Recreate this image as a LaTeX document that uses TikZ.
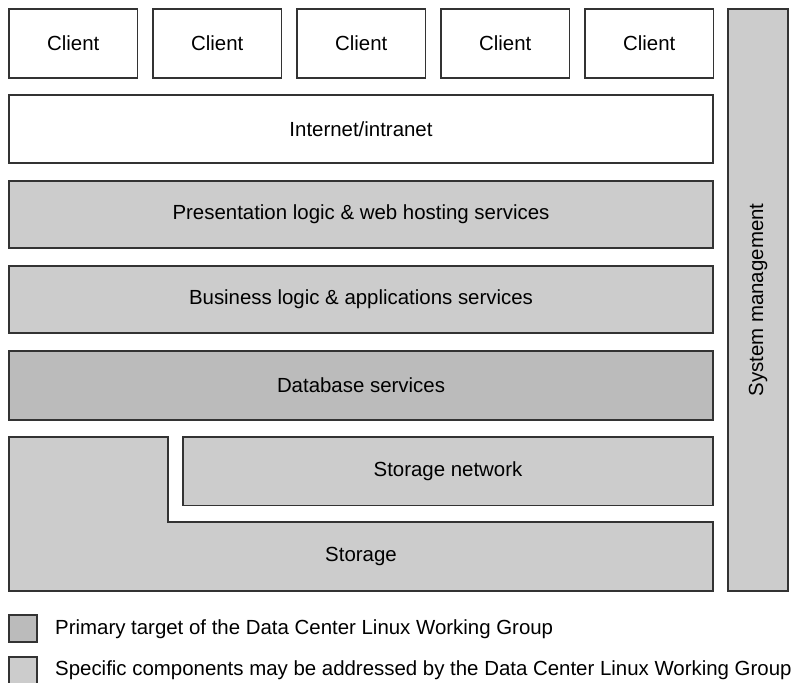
\documentclass[tikz,border=0pt]{standalone}
\usepackage{fontspec}
\setmainfont{Liberation Sans}
\definecolor{lightg}{HTML}{CCCCCC}
\definecolor{darkg}{HTML}{BBBBBB}
\definecolor{edge}{HTML}{333333}
\begin{document}
\begin{tikzpicture}[x=1bp,y=-1bp,
  box/.style={draw=edge,line width=1.1bp,inner sep=0pt},
  lbl/.style={font=\fontsize{20.5}{24}\selectfont,inner sep=0pt},
  lgd/.style={font=\fontsize{20.5}{24}\selectfont,inner sep=0pt,anchor=west}]
\useasboundingbox (0,0) rectangle (805,683);
\clip (0,0) rectangle (805,683);
% clients
\foreach \i in {0,...,4}{
  \draw[box,fill=white] ({9+\i*144},9) rectangle ({137.5+\i*144},78);
  \node[lbl] (c\i) at ({73.25+\i*144},43.5) {Client};
}
\draw[box,fill=white] (9,95) rectangle (713,163);
\node[lbl] (net) at (361,129.5) {Internet/intranet};
\draw[box,fill=lightg] (9,181) rectangle (713,248);
\node[lbl] (pres) at (361,214.5) {Presentation logic \& web hosting services};
\draw[box,fill=lightg] (9,266) rectangle (713,333);
\node[lbl] (bus) at (361,299.5) {Business logic \& applications services};
\draw[box,fill=darkg] (9,351) rectangle (713,420);
\node[lbl] (db) at (361,385.5) {Database services};
% storage L shape
\draw[box,fill=lightg] (9,437) -- (168,437) -- (168,522) -- (713,522) -- (713,591) -- (9,591) -- cycle;
\node[lbl] (sto) at (361,556.5) {Storage};
\draw[box,fill=lightg] (183,437) rectangle (713,505.5);
\node[lbl] (snet) at (448,471) {Storage network};
% system management
\draw[box,fill=lightg] (728,9) rectangle (788,591);
\node[lbl,rotate=90] (sys) at (758,300) {System management};
% legend
\draw[box,fill=darkg] (9,615) rectangle (37,642);
\node[lgd] (l1) at (55,629) {Primary target of the Data Center Linux Working Group};
\draw[box,fill=lightg] (9,657) rectangle (37,684);
\node[lgd] (l2) at (55,670) {Specific components may be addressed by the Data Center Linux Working Group};
\end{tikzpicture}
\end{document}
